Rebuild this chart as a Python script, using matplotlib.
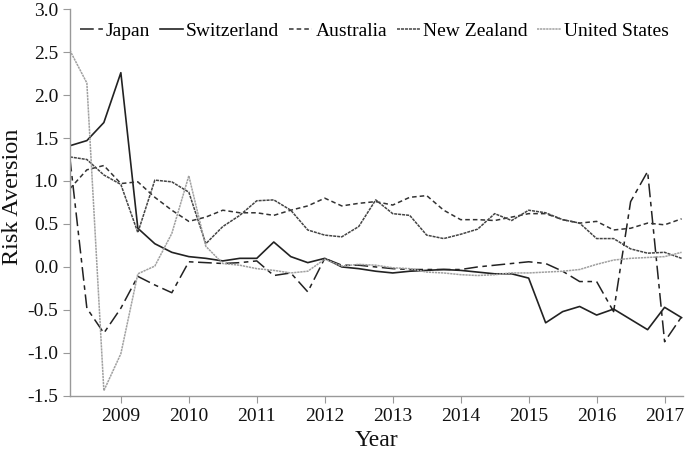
import matplotlib
matplotlib.use("Agg")
import matplotlib.pyplot as plt
import numpy as np

# Quarterly observations, 2008Q2 .. 2017Q2
quarters = [2008.25 + 0.25 * i for i in range(37)]

japan = [1.27, -0.48, -0.77, -0.48, -0.11, -0.21, -0.30, 0.06, 0.05, 0.04,
         0.05, 0.07, -0.10, -0.07, -0.29, 0.10, 0.02, 0.02, 0.00, -0.02,
         -0.03, -0.03, -0.03, -0.03, 0.00, 0.02, 0.04, 0.06, 0.04, -0.05,
         -0.17, -0.17, -0.52, 0.76, 1.11, -0.87, -0.58]
switzerland = [1.41, 1.47, 1.68, 2.26, 0.45, 0.27, 0.17, 0.12, 0.10, 0.07,
               0.10, 0.10, 0.29, 0.12, 0.05, 0.10, 0.00, -0.02, -0.05, -0.07,
               -0.05, -0.04, -0.03, -0.04, -0.06, -0.08, -0.08, -0.13, -0.65, -0.52,
               -0.46, -0.56, -0.49, -0.61, -0.73, -0.47, -0.59]
australia = [0.91, 1.13, 1.18, 0.97, 0.99, 0.81, 0.66, 0.53, 0.58, 0.66,
             0.63, 0.63, 0.60, 0.66, 0.71, 0.80, 0.71, 0.74, 0.76, 0.72,
             0.81, 0.83, 0.66, 0.55, 0.55, 0.54, 0.58, 0.62, 0.62, 0.55,
             0.51, 0.53, 0.43, 0.45, 0.51, 0.49, 0.56]
new_zealand = [1.28, 1.25, 1.07, 0.96, 0.40, 1.01, 0.99, 0.87, 0.27, 0.47,
               0.60, 0.77, 0.78, 0.66, 0.43, 0.37, 0.35, 0.47, 0.78, 0.62,
               0.60, 0.37, 0.33, 0.38, 0.44, 0.62, 0.54, 0.66, 0.63, 0.55,
               0.51, 0.33, 0.33, 0.21, 0.16, 0.17, 0.10]
united_states = [2.52, 2.14, -1.44, -1.01, -0.08, 0.01, 0.39, 1.06, 0.24, 0.04,
                 0.02, -0.02, -0.04, -0.07, -0.05, 0.09, 0.01, 0.03, 0.02, -0.01,
                 -0.02, -0.06, -0.07, -0.09, -0.10, -0.09, -0.07, -0.07, -0.06, -0.05,
                 -0.03, 0.03, 0.08, 0.10, 0.11, 0.12, 0.17]

year_ticks = [2009, 2010, 2011, 2012, 2013, 2014, 2015, 2016, 2017]
y_ticks = [-1.5, -1.0, -0.5, 0.0, 0.5, 1.0, 1.5, 2.0, 2.5, 3.0]

plt.rcParams['font.family'] = ['Liberation Serif', 'DejaVu Serif']

fig = plt.figure(figsize=(6.85, 4.55), dpi=100)
ax = fig.add_axes([0.102, 0.130, 0.895, 0.850])

ax.plot(quarters, japan, color='#222222', lw=1.1, dashes=(9, 3, 3, 3), label='Japan')
ax.plot(quarters, switzerland, color='#222222', lw=1.2, ls='-', label='Switzerland')
ax.plot(quarters, australia, color='#333333', lw=1.1, dashes=(3, 2), label='Australia')
ax.plot(quarters, new_zealand, color='#444444', lw=1.1, dashes=(2, 0.6), label='New Zealand')
ax.plot(quarters, united_states, color='#a0a0a0', lw=1.1, dashes=(1.5, 0.5), label='United States')

ax.set_xlim(2008.25, 2017.27)
ax.set_ylim(-1.5, 3.0)
ax.set_xticks(year_ticks)
ax.set_xticklabels([str(y) for y in year_ticks])
ax.set_yticks(y_ticks)
ax.set_yticklabels([f'{v:.1f}' for v in y_ticks])

for s in ['top', 'right']:
    ax.spines[s].set_visible(False)
for s in ['left', 'bottom']:
    ax.spines[s].set_color('#999999')
    ax.spines[s].set_linewidth(1.0)
ax.tick_params(axis='both', direction='out', length=5, color='#999999',
               labelsize=14, labelcolor='#111111')

ax.set_xlabel('Year', fontsize=17, color='#111111')
ax.set_ylabel('Risk Aversion', fontsize=17.5, color='#111111')
ax.xaxis.set_label_coords(0.5, -0.088)
ax.yaxis.set_label_coords(-0.076, 0.514)

ax.legend(loc='upper left', bbox_to_anchor=(0.0, 0.99), ncol=5, frameon=False,
          fontsize=14, handlelength=1.2, handletextpad=0.15, columnspacing=0.5,
          borderaxespad=0.3, borderpad=0.2)

fig.savefig('out.png', dpi=100)
